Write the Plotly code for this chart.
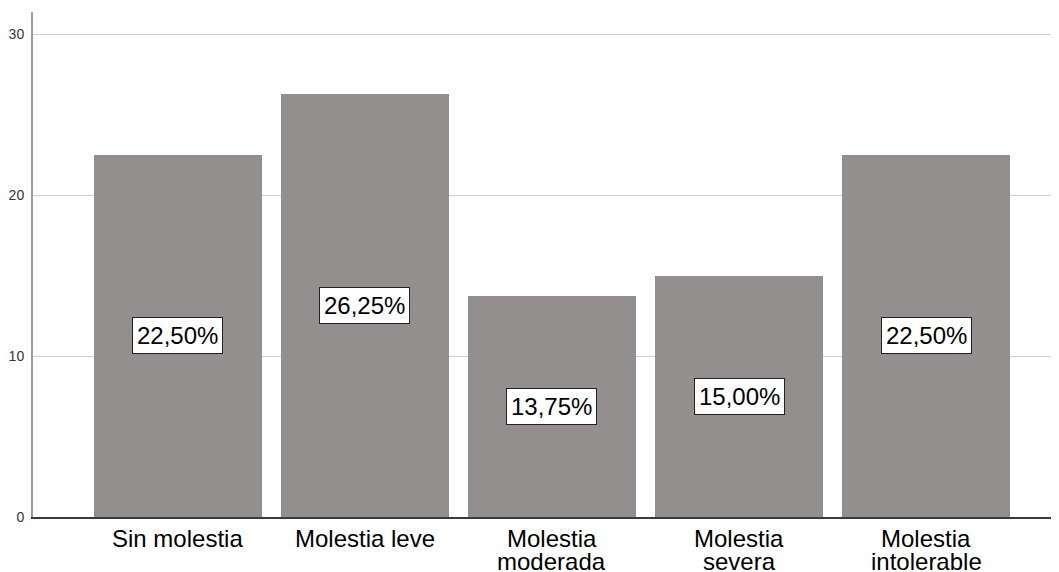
import plotly.graph_objects as go

categories = ["Sin molestia", "Molestia leve", "Molestia<br>moderada", "Molestia<br>severa", "Molestia<br>intolerable"]
percent_values = [22.50, 26.25, 13.75, 15.00, 22.50]
y_ticks = [0, 10, 20, 30]
title_text = "Sintomatología"

BAR_COLOR = "#938f8e"
FONT = "Arial, Liberation Sans, sans-serif"

# page body has an 8px margin, so the figure is sized to fill the visible window
FIG_W, FIG_H = 1051, 564

fig = go.Figure()
fig.add_trace(go.Bar(
    x=list(range(len(categories))),
    y=percent_values,
    width=0.898,
    marker=dict(color=BAR_COLOR, line=dict(width=0)),
    hoverinfo="skip",
))

# value labels in the middle of each bar
for i, v in enumerate(percent_values):
    label = f"{v:.2f}%".replace(".", ",")
    fig.add_annotation(
        x=i, y=v / 2, xref="x", yref="y",
        text=label, showarrow=False,
        font=dict(family=FONT, size=24, color="black"),
        bgcolor="white", bordercolor="#222222", borderwidth=1, borderpad=4,
    )

# category labels (tight line spacing), placed on the x scale below the axis
for i, cat in enumerate(categories):
    for j, line in enumerate(cat.split("<br>")):
        fig.add_annotation(
            x=i, xref="x", y=0, yref="paper",
            yanchor="top", yshift=-7 - 23 * j,
            text=line, showarrow=False,
            font=dict(family=FONT, size=24, color="black"),
            borderpad=0,
        )

# title, mostly above the visible page as in the reference
fig.add_annotation(
    x=0.446, xref="paper", xanchor="center",
    y=1.012, yref="paper", yanchor="bottom",
    text=f"<b>{title_text}</b>", showarrow=False,
    font=dict(family=FONT, size=14, color="black"),
    borderpad=0,
)

fig.update_layout(
    width=FIG_W, height=FIG_H,
    margin=dict(l=25, r=0, t=4, b=55, autoexpand=False),
    paper_bgcolor="white", plot_bgcolor="white",
    showlegend=False,
    bargap=0,
    font=dict(family=FONT),
)

fig.update_xaxes(
    range=[-0.775, 4.711],
    tickmode="array",
    tickvals=list(range(len(categories))),
    showticklabels=False,
    showgrid=False,
    showline=True, linecolor="#3a3a3a", linewidth=1.5,
    ticks="", zeroline=False, automargin=False,
)

fig.update_yaxes(
    range=[0, 31.375],
    tickmode="array",
    tickvals=y_ticks,
    tickfont=dict(family=FONT, size=14, color="#333333"),
    ticklabelstandoff=4,
    showgrid=True, gridcolor="#cfcfcf", gridwidth=1,
    showline=True, linecolor="#9a9a9a", linewidth=2,
    ticks="", zeroline=False, automargin=False,
)

fig.write_html("out.html")
